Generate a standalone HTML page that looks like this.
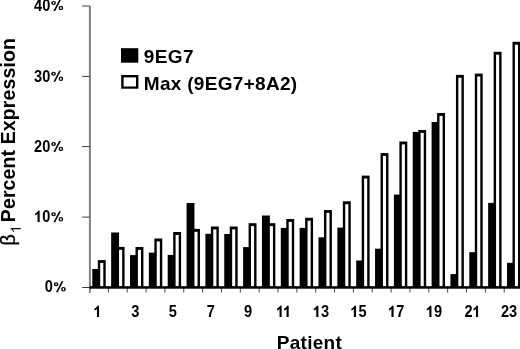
<!DOCTYPE html>
<html><head><meta charset="utf-8"><style>
html,body{margin:0;padding:0;background:#fff;}
body{width:520px;height:349px;overflow:hidden;}
svg{display:block;filter:grayscale(1);}
text{font-family:"Liberation Sans",sans-serif;fill:#000;}
.ts{font-size:15.8px;font-weight:bold;}
.tl{font-size:19.0px;font-weight:bold;}
</style></head><body>
<svg width="520" height="349" viewBox="0 0 520 349">
<rect x="0" y="0" width="520" height="349" fill="#fff"/>
<rect x="92.30" y="269.00" width="7.90" height="19.00" fill="#000"/>
<rect x="97.80" y="260.10" width="7.90" height="27.90" fill="#000"/>
<rect x="100.20" y="263.00" width="3.10" height="23.50" fill="#fff"/>
<rect x="111.15" y="232.50" width="7.90" height="55.50" fill="#000"/>
<rect x="116.65" y="246.90" width="7.90" height="41.10" fill="#000"/>
<rect x="119.05" y="249.80" width="3.10" height="36.70" fill="#fff"/>
<rect x="130.00" y="255.10" width="7.90" height="32.90" fill="#000"/>
<rect x="135.50" y="247.00" width="7.90" height="41.00" fill="#000"/>
<rect x="137.90" y="249.90" width="3.10" height="36.60" fill="#fff"/>
<rect x="148.85" y="252.60" width="7.90" height="35.40" fill="#000"/>
<rect x="154.35" y="238.50" width="7.90" height="49.50" fill="#000"/>
<rect x="156.75" y="241.40" width="3.10" height="45.10" fill="#fff"/>
<rect x="167.70" y="254.90" width="7.90" height="33.10" fill="#000"/>
<rect x="173.20" y="232.00" width="7.90" height="56.00" fill="#000"/>
<rect x="175.60" y="234.90" width="3.10" height="51.60" fill="#fff"/>
<rect x="186.55" y="203.00" width="7.90" height="85.00" fill="#000"/>
<rect x="192.05" y="228.90" width="7.90" height="59.10" fill="#000"/>
<rect x="194.45" y="231.80" width="3.10" height="54.70" fill="#fff"/>
<rect x="205.40" y="233.80" width="7.90" height="54.20" fill="#000"/>
<rect x="210.90" y="226.50" width="7.90" height="61.50" fill="#000"/>
<rect x="213.30" y="229.40" width="3.10" height="57.10" fill="#fff"/>
<rect x="224.25" y="234.00" width="7.90" height="54.00" fill="#000"/>
<rect x="229.75" y="226.50" width="7.90" height="61.50" fill="#000"/>
<rect x="232.15" y="229.40" width="3.10" height="57.10" fill="#fff"/>
<rect x="243.10" y="247.10" width="7.90" height="40.90" fill="#000"/>
<rect x="248.60" y="223.20" width="7.90" height="64.80" fill="#000"/>
<rect x="251.00" y="226.10" width="3.10" height="60.40" fill="#fff"/>
<rect x="261.95" y="215.50" width="7.90" height="72.50" fill="#000"/>
<rect x="267.45" y="223.20" width="7.90" height="64.80" fill="#000"/>
<rect x="269.85" y="226.10" width="3.10" height="60.40" fill="#fff"/>
<rect x="280.80" y="227.90" width="7.90" height="60.10" fill="#000"/>
<rect x="286.30" y="219.00" width="7.90" height="69.00" fill="#000"/>
<rect x="288.70" y="221.90" width="3.10" height="64.60" fill="#fff"/>
<rect x="299.65" y="227.90" width="7.90" height="60.10" fill="#000"/>
<rect x="305.15" y="217.80" width="7.90" height="70.20" fill="#000"/>
<rect x="307.55" y="220.70" width="3.10" height="65.80" fill="#fff"/>
<rect x="318.50" y="237.30" width="7.90" height="50.70" fill="#000"/>
<rect x="324.00" y="210.00" width="7.90" height="78.00" fill="#000"/>
<rect x="326.40" y="212.90" width="3.10" height="73.60" fill="#fff"/>
<rect x="337.35" y="227.60" width="7.90" height="60.40" fill="#000"/>
<rect x="342.85" y="201.30" width="7.90" height="86.70" fill="#000"/>
<rect x="345.25" y="204.20" width="3.10" height="82.30" fill="#fff"/>
<rect x="356.20" y="260.50" width="7.90" height="27.50" fill="#000"/>
<rect x="361.70" y="175.60" width="7.90" height="112.40" fill="#000"/>
<rect x="364.10" y="178.50" width="3.10" height="108.00" fill="#fff"/>
<rect x="375.05" y="248.70" width="7.90" height="39.30" fill="#000"/>
<rect x="380.55" y="153.10" width="7.90" height="134.90" fill="#000"/>
<rect x="382.95" y="156.00" width="3.10" height="130.50" fill="#fff"/>
<rect x="393.90" y="194.60" width="7.90" height="93.40" fill="#000"/>
<rect x="399.40" y="141.50" width="7.90" height="146.50" fill="#000"/>
<rect x="401.80" y="144.40" width="3.10" height="142.10" fill="#fff"/>
<rect x="412.75" y="131.90" width="7.90" height="156.10" fill="#000"/>
<rect x="418.25" y="130.00" width="7.90" height="158.00" fill="#000"/>
<rect x="420.65" y="132.90" width="3.10" height="153.60" fill="#fff"/>
<rect x="431.60" y="122.00" width="7.90" height="166.00" fill="#000"/>
<rect x="437.10" y="113.00" width="7.90" height="175.00" fill="#000"/>
<rect x="439.50" y="115.90" width="3.10" height="170.60" fill="#fff"/>
<rect x="450.45" y="274.10" width="7.90" height="13.90" fill="#000"/>
<rect x="455.95" y="74.90" width="7.90" height="213.10" fill="#000"/>
<rect x="458.35" y="77.80" width="3.10" height="208.70" fill="#fff"/>
<rect x="469.30" y="252.20" width="7.90" height="35.80" fill="#000"/>
<rect x="474.80" y="73.60" width="7.90" height="214.40" fill="#000"/>
<rect x="477.20" y="76.50" width="3.10" height="210.00" fill="#fff"/>
<rect x="488.15" y="202.90" width="7.90" height="85.10" fill="#000"/>
<rect x="493.65" y="51.80" width="7.90" height="236.20" fill="#000"/>
<rect x="496.05" y="54.70" width="3.10" height="231.80" fill="#fff"/>
<rect x="507.00" y="262.80" width="7.90" height="25.20" fill="#000"/>
<rect x="512.50" y="41.80" width="7.90" height="246.20" fill="#000"/>
<rect x="514.90" y="44.70" width="3.10" height="241.80" fill="#fff"/>
<rect x="89.00" y="288.00" width="1.00" height="4.60" fill="#4a4a4a"/>
<rect x="107.85" y="288.00" width="1.00" height="4.60" fill="#4a4a4a"/>
<rect x="126.70" y="288.00" width="1.00" height="4.60" fill="#4a4a4a"/>
<rect x="145.55" y="288.00" width="1.00" height="4.60" fill="#4a4a4a"/>
<rect x="164.40" y="288.00" width="1.00" height="4.60" fill="#4a4a4a"/>
<rect x="183.25" y="288.00" width="1.00" height="4.60" fill="#4a4a4a"/>
<rect x="202.10" y="288.00" width="1.00" height="4.60" fill="#4a4a4a"/>
<rect x="220.95" y="288.00" width="1.00" height="4.60" fill="#4a4a4a"/>
<rect x="239.80" y="288.00" width="1.00" height="4.60" fill="#4a4a4a"/>
<rect x="258.65" y="288.00" width="1.00" height="4.60" fill="#4a4a4a"/>
<rect x="277.50" y="288.00" width="1.00" height="4.60" fill="#4a4a4a"/>
<rect x="296.35" y="288.00" width="1.00" height="4.60" fill="#4a4a4a"/>
<rect x="315.20" y="288.00" width="1.00" height="4.60" fill="#4a4a4a"/>
<rect x="334.05" y="288.00" width="1.00" height="4.60" fill="#4a4a4a"/>
<rect x="352.90" y="288.00" width="1.00" height="4.60" fill="#4a4a4a"/>
<rect x="371.75" y="288.00" width="1.00" height="4.60" fill="#4a4a4a"/>
<rect x="390.60" y="288.00" width="1.00" height="4.60" fill="#4a4a4a"/>
<rect x="409.45" y="288.00" width="1.00" height="4.60" fill="#4a4a4a"/>
<rect x="428.30" y="288.00" width="1.00" height="4.60" fill="#4a4a4a"/>
<rect x="447.15" y="288.00" width="1.00" height="4.60" fill="#4a4a4a"/>
<rect x="466.00" y="288.00" width="1.00" height="4.60" fill="#4a4a4a"/>
<rect x="484.85" y="288.00" width="1.00" height="4.60" fill="#4a4a4a"/>
<rect x="503.70" y="288.00" width="1.00" height="4.60" fill="#4a4a4a"/>
<rect x="522.55" y="288.00" width="1.00" height="4.60" fill="#4a4a4a"/>
<rect x="88.9" y="6" width="2" height="286.6" fill="#828282"/>
<rect x="82.20" y="5.50" width="7.50" height="1.00" fill="#3a3a3a"/>
<rect x="82.20" y="75.90" width="7.50" height="1.00" fill="#3a3a3a"/>
<rect x="82.20" y="146.10" width="7.50" height="1.00" fill="#3a3a3a"/>
<rect x="82.20" y="216.60" width="7.50" height="1.00" fill="#3a3a3a"/>
<rect x="82.20" y="287.00" width="7.50" height="1.00" fill="#3a3a3a"/>
<rect x="89.6" y="286.2" width="431" height="2.5" fill="#000"/>
<text transform="translate(34.09,10.70) scale(0.9241,1)" class="ts">4</text>
<text transform="translate(42.20,10.70) scale(0.9241,1)" class="ts">0</text>
<path fill-rule="evenodd" d="M51.22,3.00a2.35,2.05 0 1,0 4.7,0a2.35,2.05 0 1,0 -4.7,0ZM52.82,3.00a0.75,1.0 0 1,0 1.5,0a0.75,1.0 0 1,0 -1.5,0ZM58.62,7.90a2.3,2.2 0 1,0 4.6,0a2.3,2.2 0 1,0 -4.6,0ZM60.12,7.90a0.8,1.2 0 1,0 1.6,0a0.8,1.2 0 1,0 -1.6,0Z"/><polygon points="59.12,-0.10 60.92,-0.10 55.22,11.00 53.42,11.00"/>
<text transform="translate(34.09,81.50) scale(0.9241,1)" class="ts">3</text>
<text transform="translate(42.20,81.50) scale(0.9241,1)" class="ts">0</text>
<path fill-rule="evenodd" d="M51.22,73.80a2.35,2.05 0 1,0 4.7,0a2.35,2.05 0 1,0 -4.7,0ZM52.82,73.80a0.75,1.0 0 1,0 1.5,0a0.75,1.0 0 1,0 -1.5,0ZM58.62,78.70a2.3,2.2 0 1,0 4.6,0a2.3,2.2 0 1,0 -4.6,0ZM60.12,78.70a0.8,1.2 0 1,0 1.6,0a0.8,1.2 0 1,0 -1.6,0Z"/><polygon points="59.12,70.70 60.92,70.70 55.22,81.80 53.42,81.80"/>
<text transform="translate(34.09,151.70) scale(0.9241,1)" class="ts">2</text>
<text transform="translate(42.20,151.70) scale(0.9241,1)" class="ts">0</text>
<path fill-rule="evenodd" d="M51.22,144.00a2.35,2.05 0 1,0 4.7,0a2.35,2.05 0 1,0 -4.7,0ZM52.82,144.00a0.75,1.0 0 1,0 1.5,0a0.75,1.0 0 1,0 -1.5,0ZM58.62,148.90a2.3,2.2 0 1,0 4.6,0a2.3,2.2 0 1,0 -4.6,0ZM60.12,148.90a0.8,1.2 0 1,0 1.6,0a0.8,1.2 0 1,0 -1.6,0Z"/><polygon points="59.12,140.90 60.92,140.90 55.22,152.00 53.42,152.00"/>
<path d="M381 0H236V515C186 468 128 436 65 414V540C99 551 138 572 180 604C222 636 251 674 266 716H381Z" transform="translate(34.09,222.00) scale(0.01460,-0.01580)"/>
<text transform="translate(42.20,222.00) scale(0.9241,1)" class="ts">0</text>
<path fill-rule="evenodd" d="M51.22,214.30a2.35,2.05 0 1,0 4.7,0a2.35,2.05 0 1,0 -4.7,0ZM52.82,214.30a0.75,1.0 0 1,0 1.5,0a0.75,1.0 0 1,0 -1.5,0ZM58.62,219.20a2.3,2.2 0 1,0 4.6,0a2.3,2.2 0 1,0 -4.6,0ZM60.12,219.20a0.8,1.2 0 1,0 1.6,0a0.8,1.2 0 1,0 -1.6,0Z"/><polygon points="59.12,211.20 60.92,211.20 55.22,222.30 53.42,222.30"/>
<text transform="translate(44.70,292.00) scale(0.9241,1)" class="ts">0</text>
<path fill-rule="evenodd" d="M53.72,284.30a2.35,2.05 0 1,0 4.7,0a2.35,2.05 0 1,0 -4.7,0ZM55.32,284.30a0.75,1.0 0 1,0 1.5,0a0.75,1.0 0 1,0 -1.5,0ZM61.12,289.20a2.3,2.2 0 1,0 4.6,0a2.3,2.2 0 1,0 -4.6,0ZM62.62,289.20a0.8,1.2 0 1,0 1.6,0a0.8,1.2 0 1,0 -1.6,0Z"/><polygon points="61.62,281.20 63.42,281.20 57.72,292.30 55.92,292.30"/>
<path d="M381 0H236V515C186 468 128 436 65 414V540C99 551 138 572 180 604C222 636 251 674 266 716H381Z" transform="translate(93.49,317.10) scale(0.01460,-0.01580)"/>
<text transform="translate(131.34,317.10) scale(0.9241,1)" class="ts">3</text>
<text transform="translate(168.87,317.10) scale(0.9241,1)" class="ts">5</text>
<text transform="translate(206.75,317.10) scale(0.9241,1)" class="ts">7</text>
<text transform="translate(243.96,317.10) scale(0.9241,1)" class="ts">9</text>
<path d="M381 0H236V515C186 468 128 436 65 414V540C99 551 138 572 180 604C222 636 251 674 266 716H381Z" transform="translate(276.09,317.10) scale(0.01460,-0.01580)"/>
<path d="M381 0H236V515C186 468 128 436 65 414V540C99 551 138 572 180 604C222 636 251 674 266 716H381Z" transform="translate(283.12,317.10) scale(0.01460,-0.01580)"/>
<path d="M381 0H236V515C186 468 128 436 65 414V540C99 551 138 572 180 604C222 636 251 674 266 716H381Z" transform="translate(312.82,317.10) scale(0.01460,-0.01580)"/>
<text transform="translate(320.94,317.10) scale(0.9241,1)" class="ts">3</text>
<path d="M381 0H236V515C186 468 128 436 65 414V540C99 551 138 572 180 604C222 636 251 674 266 716H381Z" transform="translate(350.46,317.10) scale(0.01460,-0.01580)"/>
<text transform="translate(358.58,317.10) scale(0.9241,1)" class="ts">5</text>
<path d="M381 0H236V515C186 468 128 436 65 414V540C99 551 138 572 180 604C222 636 251 674 266 716H381Z" transform="translate(388.03,317.10) scale(0.01460,-0.01580)"/>
<text transform="translate(396.15,317.10) scale(0.9241,1)" class="ts">7</text>
<path d="M381 0H236V515C186 468 128 436 65 414V540C99 551 138 572 180 604C222 636 251 674 266 716H381Z" transform="translate(425.88,317.10) scale(0.01460,-0.01580)"/>
<text transform="translate(434.00,317.10) scale(0.9241,1)" class="ts">9</text>
<text transform="translate(464.40,317.10) scale(0.9241,1)" class="ts">2</text>
<path d="M381 0H236V515C186 468 128 436 65 414V540C99 551 138 572 180 604C222 636 251 674 266 716H381Z" transform="translate(472.52,317.10) scale(0.01460,-0.01580)"/>
<text transform="translate(500.94,317.10) scale(0.9241,1)" class="ts">2</text>
<text transform="translate(509.06,317.10) scale(0.9241,1)" class="ts">3</text>
<rect x="121" y="48.2" width="17.3" height="14.5" fill="#000"/>
<rect x="121.2" y="75" width="17.2" height="13.7" fill="#000"/>
<rect x="123.6" y="77.4" width="12.4" height="9.1" fill="#fff"/>
<text x="143.7" y="63.2" class="tl" style="letter-spacing:0.4px">9EG7</text>
<text x="143.8" y="90.0" class="tl" style="letter-spacing:0.3px">Max (9EG7+8A2)</text>
<text x="276.8" y="349.3" class="tl" style="letter-spacing:0.27px">Patient</text>
<g transform="rotate(-90)">
<text x="-245.8" y="14.85" style="font-size:20px;font-weight:normal" stroke="#000" stroke-width="0.35">&#946;</text>
<path d="M372 0H284V560C263 540 235 520 200 499C165 479 134 464 106 453V538C155 561 199 589 236 622C273 655 299 687 315 716H372Z" transform="translate(-233.2,20.7) scale(0.0141,-0.0141)"/>
<text x="-222.2" y="14.6" class="tl" style="font-size:19.5px;letter-spacing:0.12px">Percent Expression</text>
</g>
</svg>
</body></html>
